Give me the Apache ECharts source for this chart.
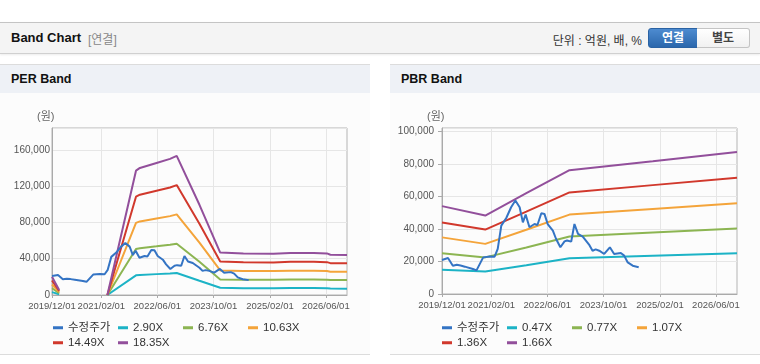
<!DOCTYPE html>
<html><head><meta charset="utf-8">
<script src="https://cdn.jsdelivr.net/npm/echarts@6/dist/echarts.min.js"></script>
<style>
html,body{margin:0;padding:0;background:#fff;width:760px;height:364px;overflow:hidden;font-family:"Liberation Sans","Noto Sans CJK KR",sans-serif;}
.hdr{position:absolute;left:0;top:22px;width:760px;height:30px;background:#f4f4f4;border-top:1px solid #c4c4c4;border-bottom:1px solid #d0d0d0;box-shadow:0 1px 2px rgba(0,0,0,0.08);}
.title{position:absolute;left:11px;top:7px;font-size:13px;font-weight:bold;color:#111;}
.sub{position:absolute;left:88px;top:7px;font-size:12px;color:#888;}
.unit{position:absolute;right:118px;top:8px;font-size:12px;color:#333;}
.btn{position:absolute;top:5px;height:18px;line-height:18px;font-size:12px;font-weight:bold;text-align:center;box-sizing:content-box;}
.b1{left:648px;width:48px;background:linear-gradient(#4d8bd0,#2b67ac);color:#fff;border:1px solid #2a62a3;border-radius:3px 0 0 3px;}
.b2{left:697px;width:52px;background:linear-gradient(#ffffff,#f1f1f1);color:#444;border:1px solid #c4c4c4;border-left:none;border-radius:0 3px 3px 0;}
.panel{position:absolute;top:64px;width:370px;height:289px;background:#fcfcfc;border-top:1px solid #dcdcdc;border-bottom:1px solid #dcdcdc;}
.ph{height:28px;line-height:28px;background:#eef1f6;padding-left:11px;font-size:12.5px;font-weight:bold;color:#111;}
#chart{position:absolute;left:0;top:0;width:760px;height:364px;}
</style></head>
<body>
<div class="hdr"><span class="title">Band Chart</span><span class="sub">[연결]</span><span class="unit">단위 : 억원, 배, %</span><span class="btn b1">연결</span><span class="btn b2">별도</span></div>
<div class="panel" style="left:0"><div class="ph">PER Band</div></div>
<div class="panel" style="left:390px"><div class="ph">PBR Band</div></div>
<div id="chart"></div>
<script>
// ---- data ----
const xTickLabels = ['2019/12/01','2021/02/01','2022/06/01','2023/10/01','2025/02/01','2026/06/01'];
const xStart = '2019/12/01';
const xEnd = '2026/12/01';

const priceName = '수정주가';
const priceDates = ['2019/12/01','2020/01/22','2020/03/04','2020/04/07','2020/05/10','2020/06/16','2020/08/25','2020/09/25','2020/11/22','2021/01/19','2021/03/01','2021/03/28','2021/04/28','2021/06/10','2021/07/22','2021/08/28','2021/10/04','2021/11/01','2021/11/25','2021/12/28','2022/02/10','2022/03/07','2022/04/10','2022/05/07','2022/06/04','2022/07/19','2022/08/16','2022/09/22','2022/10/28','2022/11/19','2022/12/25','2023/01/22','2023/02/22','2023/04/04','2023/06/01','2023/06/28','2023/07/25','2023/08/25','2023/10/07','2023/11/25','2024/01/01','2024/02/28','2024/03/28','2024/04/28','2024/06/10','2024/08/01'];
const priceValues = [20900,22100,17400,18000,17500,16800,15400,14500,22500,23100,22900,27700,42000,46700,53300,57400,53300,44000,48800,41000,43000,42400,49600,49200,43000,38900,33800,28700,32300,32900,32200,43000,36900,35200,30000,26600,27400,26600,24600,28700,24600,25200,23600,19400,17400,16400];

const perNames = ['2.90X','6.76X','10.63X','14.49X','18.35X'];
const perDates = ['2019/12/01','2020/02/01','2020/08/01','2021/03/25','2021/11/28','2022/01/01','2022/05/25','2022/09/19','2022/11/16','2023/06/01','2023/11/28','2024/06/16','2025/03/04','2025/07/28','2026/02/16','2026/06/10','2026/07/10','2026/12/01'];
const per290  = [3200, 900, null, 0, 21700, 22100, 23000, 23700, 24200, 15700, 8000, 7500, 7400, 7800, 7800, 7500, 7100, 7000];
const per676  = [7400, 2000, null, 0, 50600, 51600, 53600, 55300, 56500, 36600, 17200, 16900, 16800, 17100, 17100, 16900, 16500, 16400];
const per1063 = [11600, 3200, null, 0, 79400, 81100, 84300, 86900, 88800, 57600, 27100, 26500, 26400, 26800, 26800, 26500, 25700, 25600];
const per1449 = [16000, 4400, null, 0, 108300, 110500, 114900, 118500, 121100, 78500, 36900, 36100, 35900, 36600, 36600, 36200, 35100, 34900];
const per1835 = [20000, 5500, null, 0, 137000, 140000, 145500, 150000, 153300, 99400, 46700, 45700, 45500, 46300, 46300, 45800, 44400, 44200];

const pbrNames = ['0.47X','0.77X','1.07X','1.36X','1.66X'];
const pbrDates = ['2019/12/01','2020/12/10','2021/12/01','2022/12/10','2024/12/01','2026/12/01'];
const pbr047 = [14900, 13800, 17600, 22000, 23500, 25000];
const pbr077 = [25100, 22500, 28600, 35300, 37800, 40300];
const pbr107 = [34800, 30800, 39500, 48800, 52300, 55700];
const pbr136 = [44000, 39600, 50600, 62400, 66900, 71500];
const pbr166 = [54000, 48200, 62000, 76100, 81500, 87300];

const perYMax = 184000, perYStep = 40000;
const pbrYMax = 102000, pbrYStep = 20000;

// ---- styles ----
const priceColor = '#3474c4';
const bandColors = ['#1cb3c6','#8cb552','#f4a43a','#d1382c','#924f9b'];
const FONT = '"Liberation Sans","Noto Sans CJK KR",sans-serif';

const T = s => { const p = s.split('/').map(Number); return new Date(p[0], p[1] - 1, p[2]).getTime(); };
const tickTs = xTickLabels.map(T);
const pad = n => (n < 10 ? '0' : '') + n;
const fmtDate = v => { const d = new Date(v); return d.getFullYear() + '/' + pad(d.getMonth() + 1) + '/' + pad(d.getDate()); };
const pts = (dates, vals) => dates.map((d, i) => [T(d), vals[i]]);

function xAxis(gi) {
  return {
    type: 'value', gridIndex: gi, min: T(xStart), max: T(xEnd), scale: true,
    axisLine: { show: true, onZero: false, lineStyle: { color: '#aaaaaa' } },
    axisTick: { show: true, length: 3, customValues: tickTs, lineStyle: { color: '#aaaaaa' } },
    axisLabel: { customValues: tickTs, formatter: fmtDate, fontSize: 9.5, color: '#555', margin: 7, fontFamily: FONT,
      hideOverlap: false, showMinLabel: true, showMaxLabel: true },
    splitLine: { show: true, lineStyle: { color: '#e6e6e6' } }
  };
}
function yAxis(gi, max, step, tick, margin) {
  return {
    type: 'value', gridIndex: gi, min: 0, max: max, interval: step,
    axisLine: { show: true, lineStyle: { color: '#aaaaaa' } },
    axisTick: { show: tick, length: 4, lineStyle: { color: '#aaaaaa' } },
    axisLabel: { fontSize: 10, color: '#555', margin: margin, showMaxLabel: false, fontFamily: FONT,
      formatter: v => v.toLocaleString('en-US') },
    splitLine: { show: true, lineStyle: { color: '#e6e6e6' } }
  };
}
function line(name, gi, data, color, z) {
  return { type: 'line', name: name, xAxisIndex: gi, yAxisIndex: gi, data: data, showSymbol: false, symbol: 'none',
    lineStyle: { width: 2, color: color }, itemStyle: { color: color }, z: z, animation: false };
}

const perBands = [per290, per676, per1063, per1449, per1835];
const pbrBands = [pbr047, pbr077, pbr107, pbr136, pbr166];
const series = [];
perBands.forEach((v, i) => series.push(line(perNames[i], 0, pts(perDates, v), bandColors[i], 2)));
series.push(line(priceName, 0, pts(priceDates, priceValues), priceColor, 3));
pbrBands.forEach((v, i) => series.push(line(pbrNames[i], 1, pts(pbrDates, v), bandColors[i], 2)));
series.push(line(priceName, 1, pts(priceDates, priceValues), priceColor, 3));

function legendsFor(names, x0) {
  const all = [priceName].concat(names);
  const col = [0, 65, 130, 195, 0, 65];
  const row = [322, 322, 322, 322, 337, 337];
  return all.map((n, i) => ({
    left: x0 + col[i], top: row[i], padding: 0, data: [n], selectedMode: false,
    icon: 'rect', itemWidth: 10, itemHeight: 3,
    textStyle: { fontSize: 11.5, color: '#333', fontFamily: FONT }
  }));
}

const chart = echarts.init(document.getElementById('chart'), null, { renderer: 'canvas' });
chart.setOption({
  animation: false,
  textStyle: { fontFamily: FONT },
  grid: [
    { left: 52, right: 413, top: 128, bottom: 69, show: true, borderColor: '#b4b4b4', borderWidth: 1 },
    { left: 442, right: 23, top: 128, bottom: 70, show: true, borderColor: '#b4b4b4', borderWidth: 1 }
  ],
  xAxis: [xAxis(0), xAxis(1)],
  yAxis: [yAxis(0, perYMax, perYStep, false, 2), yAxis(1, pbrYMax, pbrYStep, true, 8)],
  legend: legendsFor(perNames, 53).concat(legendsFor(pbrNames, 442)),
  graphic: [
    { type: 'text', left: 37, top: 111, style: { text: '(원)', fontSize: 11, fill: '#666', fontFamily: FONT } },
    { type: 'text', left: 427, top: 111, style: { text: '(원)', fontSize: 11, fill: '#666', fontFamily: FONT } }
  ],
  series: series
});
</script>
</body></html>
